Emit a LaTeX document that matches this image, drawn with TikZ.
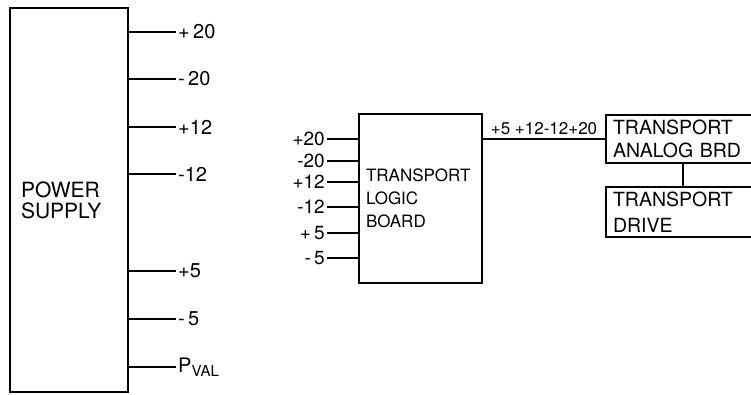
\documentclass[tikz,border=0pt]{standalone}
\usepackage{fontspec}
\setmainfont{TeX Gyre Heros}
\usetikzlibrary{positioning,calc}
\tikzset{
  unit/.style={
    rectangle, draw=black, line width=2.6pt, align=left,
    inner xsep=7pt, inner ysep=0pt, font=\fontsize{19.5}{23}\selectfont
  },
  lead/.style={line width=2.6pt, draw=black},
  rail/.style={inner sep=2pt, font=\fontsize{20}{22}\selectfont},
  pin/.style={inner sep=2pt, font=\fontsize{19}{21}\selectfont},
  bus/.style={inner sep=3pt, font=\fontsize{17}{18}\selectfont}
}
\newcommand{\subval}{P\raisebox{-4pt}{\fontsize{15}{15}\selectfont VAL}}

\begin{document}
\begin{tikzpicture}[x=1pt, y=-1pt]
\useasboundingbox (0,0) rectangle (751,394);
% power supply and its outputs
\node[unit, minimum width=118, minimum height=384, text width=96, inner xsep=11pt,
  font=\fontsize{21}{21}\selectfont] (psu) at (69,200) {POWER\\SUPPLY};
\node[rail, anchor=west] (pp20) at (176,32) {+\,20};
\node[rail, anchor=west] (pm20) at (176,79) {-\,20};
\node[rail, anchor=west] (pp12) at (176,127) {+12};
\node[rail, anchor=west] (pm12) at (176,174) {-12};
\node[rail, anchor=west] (pp5) at (176,271) {+5};
\node[rail, anchor=west] (pm5) at (176,319) {-\,5};
\node[rail, anchor=west] (pval) at (176,367) {\subval};
\draw[lead] (psu.east |- pp20) -- (pp20.west);
\draw[lead] (psu.east |- pm20) -- (pm20.west);
\draw[lead] (psu.east |- pp12) -- (pp12.west);
\draw[lead] (psu.east |- pm12) -- (pm12.west);
\draw[lead] (psu.east |- pp5) -- (pp5.west);
\draw[lead] (psu.east |- pm5) -- (pm5.west);
\draw[lead] (psu.east |- pval) -- (pval.west);
% transport logic board and its inputs
\node[unit, minimum width=123, minimum height=169, text width=109,
  font=\fontsize{17}{23}\selectfont] (logic) at (420.5,198.5) {TRANSPORT\\LOGIC\\BOARD};
\node[pin, anchor=east] (lp20) at (327,139) {+20};
\node[pin, anchor=east] (lm20) at (327,161) {-20};
\node[pin, anchor=east] (lp12) at (327,182) {+12};
\node[pin, anchor=east] (lm12) at (327,207) {-12};
\node[pin, anchor=east] (lp5) at (327,233) {+\,5};
\node[pin, anchor=east] (lm5) at (327,258) {-\,5};
\draw[lead] (lp20.east) -- (lp20.east -| logic.west);
\draw[lead] (lm20.east) -- (lm20.east -| logic.west);
\draw[lead] (lp12.east) -- (lp12.east -| logic.west);
\draw[lead] (lm12.east) -- (lm12.east -| logic.west);
\draw[lead] (lp5.east) -- (lp5.east -| logic.west);
\draw[lead] (lm5.east) -- (lm5.east -| logic.west);
% transport analog board and drive
\node[unit, minimum width=154, minimum height=48, text width=140] (analog) at (683,139) {TRANSPORT\\ANALOG BRD};
\node[unit, minimum width=154, minimum height=50, text width=140,
  font=\fontsize{19.5}{26}\selectfont] (drive) at (683,212) {TRANSPORT\\DRIVE};
\draw[lead] (analog.west -| logic.east) -- (analog.west)
  node[midway, above, bus] {+5 +12-12+20};
\draw[lead] (analog) -- (drive);
\end{tikzpicture}
\end{document}
